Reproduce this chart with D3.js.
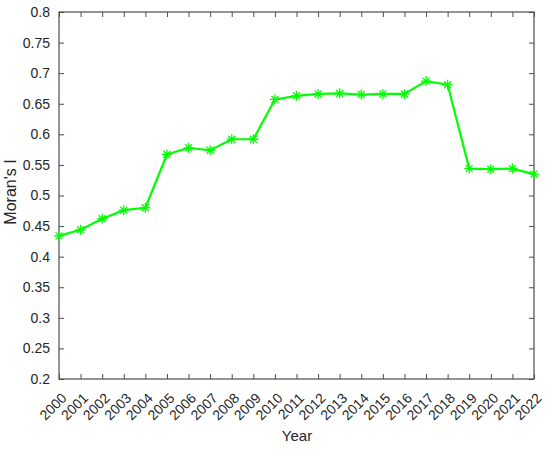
<!DOCTYPE html>
<html><head><meta charset="utf-8">
<script src="https://cdn.jsdelivr.net/npm/d3@7"></script>
<style>body{margin:0;background:#fff}svg{display:block}text{font-family:"Liberation Sans",Arial,sans-serif}</style>
</head><body><svg id="c" width="550" height="451"></svg>
<script>
const years = [2000,2001,2002,2003,2004,2005,2006,2007,2008,2009,2010,2011,2012,2013,2014,2015,2016,2017,2018,2019,2020,2021,2022];
const moransI = [0.434,0.444,0.462,0.476,0.480,0.567,0.578,0.574,0.592,0.592,0.657,0.663,0.666,0.667,0.665,0.666,0.666,0.687,0.681,0.544,0.543,0.544,0.535];
const yTicks = [0.2,0.25,0.3,0.35,0.4,0.45,0.5,0.55,0.6,0.65,0.7,0.75,0.8];

const svg = d3.select("#c");
const L=59,R=534,T=12,B=379;
const x = d3.scaleLinear().domain([2000,2022]).range([L,R]);
const y = d3.scaleLinear().domain([0.2,0.8]).range([B,T]);
const axisCol="#4d4d4d";

// box
svg.append("rect").attr("x",L).attr("y",T).attr("width",R-L).attr("height",B-T)
  .attr("fill","none").attr("stroke",axisCol).attr("stroke-width",1.2);

// y axis
const yAx = svg.append("g").attr("transform",`translate(${L},0)`)
  .call(d3.axisLeft(y).tickValues(yTicks).tickFormat(d=>d3.format("")(+d.toFixed(2))).tickSizeInner(-5).tickSizeOuter(0).tickPadding(9));
yAx.select(".domain").remove();
yAx.selectAll("line").attr("stroke",axisCol);
yAx.selectAll("text").attr("font-size",14).attr("fill","#262626");
// right ticks
const yAxR = svg.append("g").attr("transform",`translate(${R},0)`)
  .call(d3.axisRight(y).tickValues(yTicks).tickFormat("").tickSizeInner(-5).tickSizeOuter(0));
yAxR.select(".domain").remove();
yAxR.selectAll("line").attr("stroke",axisCol);

// x axis
const xAx = svg.append("g").attr("transform",`translate(0,${B})`)
  .call(d3.axisBottom(x).tickValues(years).tickFormat(d=>String(d)).tickSizeInner(-5).tickSizeOuter(0));
xAx.select(".domain").remove();
xAx.selectAll("line").attr("stroke",axisCol);
xAx.selectAll("text").attr("font-size",14).attr("fill","#262626")
  .attr("text-anchor","end").attr("dy",0).attr("y",0)
  .attr("transform","translate(8,20) rotate(-45)");
const xAxT = svg.append("g").attr("transform",`translate(0,${T})`)
  .call(d3.axisTop(x).tickValues(years).tickFormat("").tickSizeInner(-5).tickSizeOuter(0));
xAxT.select(".domain").remove();
xAxT.selectAll("line").attr("stroke",axisCol);

// labels
svg.append("text").attr("x",297).attr("y",441).attr("text-anchor","middle")
  .attr("font-size",15).attr("fill","#262626").text("Year");
svg.append("text").attr("transform",`translate(16,192) rotate(-90)`).attr("text-anchor","middle")
  .attr("font-size",16).attr("fill","#262626").text("Moran's I");

// line
const line = d3.line().x((d,i)=>x(years[i])).y(d=>y(d));
svg.append("path").datum(moransI).attr("d",line).attr("fill","none")
  .attr("stroke","#00ff00").attr("stroke-width",2.2);

// asterisk markers
const s=5;
const star = `M${-s},0L${s},0M0,${-s}L0,${s}M${-s*0.7},${-s*0.7}L${s*0.7},${s*0.7}M${-s*0.7},${s*0.7}L${s*0.7},${-s*0.7}`;
svg.append("g").selectAll("path").data(moransI).join("path")
  .attr("transform",(d,i)=>`translate(${x(years[i])},${y(d)})`)
  .attr("d",star).attr("stroke","#00ff00").attr("stroke-width",1.3).attr("fill","none");
</script></body></html>
